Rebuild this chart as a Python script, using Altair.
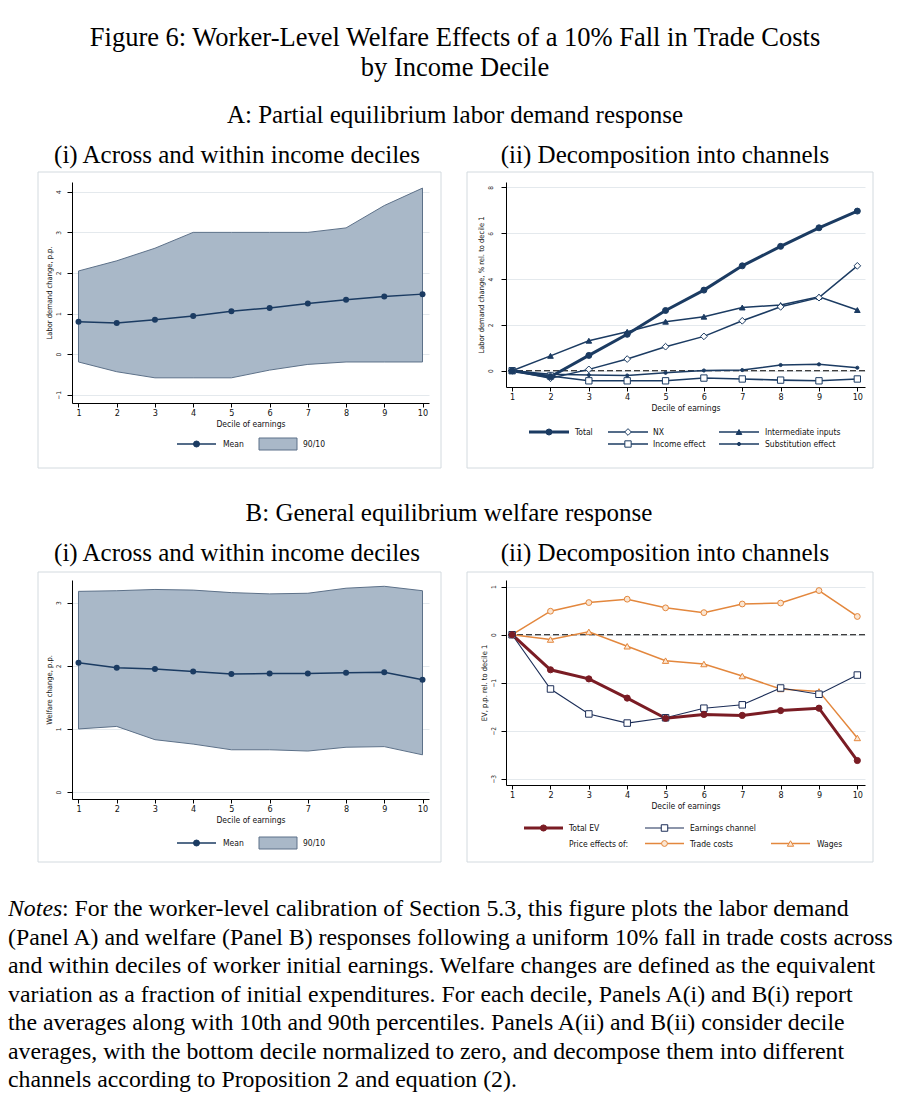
import altair as alt
import pandas as pd

# ---------------- data ----------------
deciles = [1, 2, 3, 4, 5, 6, 7, 8, 9, 10]

# Panel A(i): labor demand change, p.p.
a_mean = [0.80, 0.77, 0.85, 0.94, 1.06, 1.14, 1.25, 1.34, 1.42, 1.48]
a_p90 = [2.05, 2.30, 2.61, 3.00, 3.00, 3.00, 3.00, 3.11, 3.66, 4.09]
a_p10 = [-0.19, -0.43, -0.58, -0.58, -0.58, -0.39, -0.25, -0.19, -0.19, -0.19]

# Panel A(ii): decomposition, % rel. to decile 1
a_series = ["Total", "NX", "Intermediate inputs", "Income effect", "Substitution effect"]
a_total = [0.0, -0.26, 0.67, 1.59, 2.63, 3.52, 4.58, 5.43, 6.24, 6.97]
a_nx = [0.0, -0.33, 0.06, 0.51, 1.05, 1.50, 2.18, 2.79, 3.19, 4.58]
a_inter = [0.0, 0.65, 1.31, 1.70, 2.14, 2.36, 2.76, 2.87, 3.23, 2.65]
a_income = [0.0, -0.23, -0.44, -0.44, -0.44, -0.32, -0.36, -0.41, -0.44, -0.36]
a_subst = [0.0, -0.15, -0.19, -0.21, -0.09, 0.01, 0.03, 0.25, 0.28, 0.13]

# Panel B(i): welfare change, p.p.
b_mean = [2.05, 1.97, 1.95, 1.91, 1.87, 1.88, 1.88, 1.89, 1.90, 1.78]
b_p90 = [3.18, 3.19, 3.21, 3.20, 3.16, 3.14, 3.15, 3.23, 3.26, 3.19]
b_p10 = [1.00, 1.04, 0.83, 0.76, 0.67, 0.67, 0.65, 0.71, 0.72, 0.59]

# Panel B(ii): EV, p.p. rel. to decile 1
b_series = ["Total EV", "Earnings channel", "Trade costs", "Wages"]
b_total = [0.0, -0.73, -0.92, -1.32, -1.74, -1.66, -1.68, -1.58, -1.53, -2.62]
b_earn = [0.0, -1.13, -1.65, -1.84, -1.73, -1.53, -1.46, -1.11, -1.24, -0.84]
b_trade = [0.0, 0.49, 0.67, 0.74, 0.56, 0.46, 0.64, 0.66, 0.92, 0.38]
b_wages = [0.0, -0.10, 0.06, -0.24, -0.54, -0.61, -0.86, -1.13, -1.18, -2.15]

# tick values
a1_ticks = [-1, 0, 1, 2, 3, 4]
a2_ticks = [0, 2, 4, 6, 8]
b1_ticks = [0, 1, 2, 3]
b2_ticks = [-3, -2, -1, 0, 1]

# texts
fig_title = ["Figure 6: Worker-Level Welfare Effects of a 10% Fall in Trade Costs",
             "by Income Decile"]
panel_a_title = "A: Partial equilibrium labor demand response"
panel_b_title = "B: General equilibrium welfare response"
sub_i = "(i) Across and within income deciles"
sub_ii = "(ii) Decomposition into channels"
x_title = "Decile of earnings"
a1_ytitle = "Labor demand change, p.p."
a2_ytitle = "Labor demand change, % rel. to decile 1"
b1_ytitle = "Welfare change, p.p."
b2_ytitle = "EV, p.p. rel. to decile 1"
band_label = "90/10"
mean_label = "Mean"
price_label = "Price effects of:"
notes_word = "Notes"
notes_lines = [
    ": For the worker-level calibration of Section 5.3, this figure plots the labor demand",
    "(Panel A) and welfare (Panel B) responses following a uniform 10% fall in trade costs across",
    "and within deciles of worker initial earnings. Welfare changes are defined as the equivalent",
    "variation as a fraction of initial expenditures. For each decile, Panels A(i) and B(i) report",
    "the averages along with 10th and 90th percentiles. Panels A(ii) and B(ii) consider decile",
    "averages, with the bottom decile normalized to zero, and decompose them into different",
    "channels according to Proposition 2 and equation (2).",
]

# ---------------- styles ----------------
NAVY = "#1b3b62"
MAROON = "#7a1c24"
ORANGE = "#e3873d"
BAND = "#a9b8c8"
BANDLINE = "#5d7189"
GRID = "#e4e9ed"
FRAME = "#d3dadf"
SANS = "Liberation Sans Narrow, Arial Narrow, DejaVu Sans Condensed, Liberation Sans, sans-serif"
SERIF = "Liberation Serif, Times New Roman, serif"

A_STYLE = {
    "Total": dict(stroke=NAVY, width=3.0, shape="circle", fill=NAVY, size=36),
    "NX": dict(stroke=NAVY, width=1.5, shape="diamond", fill="white", size=45),
    "Intermediate inputs": dict(stroke=NAVY, width=1.5, shape="triangle-up", fill=NAVY, size=32),
    "Income effect": dict(stroke=NAVY, width=1.6, shape="square", fill="white", size=40),
    "Substitution effect": dict(stroke=NAVY, width=1.5, shape="circle", fill=NAVY, size=10),
}
B_STYLE = {
    "Total EV": dict(stroke=MAROON, width=3.0, shape="circle", fill=MAROON, size=38),
    "Earnings channel": dict(stroke="#1b2d57", width=1.1, shape="square", fill="white", size=42),
    "Trade costs": dict(stroke=ORANGE, width=1.5, shape="circle", fill="#fbe6d2", size=34),
    "Wages": dict(stroke=ORANGE, width=1.5, shape="triangle-up", fill="#fbe6d2", size=40),
}
MEAN_STYLE = {"Mean": dict(stroke=NAVY, width=1.5, shape="circle", fill=NAVY, size=36)}

INDEP = dict(stroke="independent", fill="independent", shape="independent",
             size="independent", strokeWidth="independent")


def scales(style):
    series = list(style.keys())
    def sc(key):
        return alt.Scale(type="ordinal", domain=series, range=[style[s][key] for s in series])
    return {k: sc(k) for k in ["stroke", "width", "shape", "fill", "size"]}


def x_axis():
    return alt.Axis(title=x_title, values=deciles, grid=False, format="d",
                    domainColor="black", domainWidth=1, tickColor="black", tickSize=4,
                    tickWidth=1, labelAngle=0, labelFont=SANS, labelFontSize=9,
                    labelColor="#111", labelPadding=1, titleFont=SANS, titleFontSize=8.5,
                    titleFontWeight="normal", titleColor="#111", titlePadding=2)


def y_axis(title, ticks, lpad, tpad):
    return alt.Axis(title=title, values=ticks, grid=True, gridColor=GRID, gridWidth=1,
                    format="d", domainColor="black", domainWidth=1, tickColor="black",
                    tickSize=5, tickWidth=1, labelAngle=270, labelAlign="center",
                    labelBaseline="middle", labelFont=SANS, labelFontSize=6.5,
                    labelColor="#222", labelPadding=lpad, titleFont=SANS, titleFontSize=7.5,
                    titleFontWeight="normal", titleColor="#111", titlePadding=tpad)


def frame(x0, x1, y0, y1):
    return alt.Chart(alt.Data(values=[{}])).mark_rect(
        fillOpacity=0, stroke=FRAME, strokeWidth=1
    ).encode(x=alt.value(x0), x2=alt.value(x1), y=alt.value(y0), y2=alt.value(y1))


def legend_group(w, rows_px, entries, texts, style, line_len, extra=None):
    sc = scales(style)
    LX = alt.Scale(domain=[0, w], range=[0, w], nice=False, zero=False)
    LY = alt.Scale(domain=[0, 1], range=rows_px, nice=False, zero=False)
    layers = []
    if entries:
        de = pd.DataFrame({
            "series": [e[0] for e in entries],
            "x0": [e[1] for e in entries],
            "x1": [e[1] + line_len for e in entries],
            "xm": [e[1] + line_len / 2 for e in entries],
            "row": [e[2] for e in entries],
        })
        layers.append(alt.Chart(de).mark_rule().encode(
            x=alt.X("x0:Q", scale=LX, axis=None), x2="x1:Q",
            y=alt.Y("row:Q", scale=LY, axis=None),
            stroke=alt.Stroke("series:N", scale=sc["stroke"], legend=None),
            strokeWidth=alt.StrokeWidth("series:N", scale=sc["width"], legend=None)))
        layers.append(alt.Chart(de).mark_point(filled=True, opacity=1, strokeWidth=1).encode(
            x=alt.X("xm:Q", scale=LX, axis=None),
            y=alt.Y("row:Q", scale=LY, axis=None),
            shape=alt.Shape("series:N", scale=sc["shape"], legend=None),
            fill=alt.Fill("series:N", scale=sc["fill"], legend=None),
            stroke=alt.Stroke("series:N", scale=sc["stroke"], legend=None),
            size=alt.Size("series:N", scale=sc["size"], legend=None)))
    if extra is not None:
        bx0, bx1 = extra
        db = pd.DataFrame({"bx0": [bx0], "bx1": [bx1], "by0": [-0.5], "by1": [0.5]})
        layers.append(alt.Chart(db).mark_rect(fill=BAND, stroke=BANDLINE, strokeWidth=1).encode(
            x=alt.X("bx0:Q", scale=LX, axis=None), x2="bx1:Q",
            y=alt.Y("by0:Q", scale=LY, axis=None), y2="by1:Q"))
    dt = pd.DataFrame({"label": [t[0] for t in texts], "x": [t[1] for t in texts],
                       "row": [t[2] for t in texts]})
    layers.append(alt.Chart(dt).mark_text(align="left", baseline="middle", font=SANS,
                                          fontSize=8.5, color="#111").encode(
        x=alt.X("x:Q", scale=LX, axis=None), y=alt.Y("row:Q", scale=LY, axis=None),
        text="label:N"))
    return alt.layer(*layers)


def band_panel(mean, p90, p10, ydom, ticks, ytitle, w, h, fr, legrow, lpad, tpad):
    df = pd.DataFrame({"decile": deciles, "mean": mean, "p90": p90, "p10": p10})
    xs = alt.Scale(domain=[0.83, 10.17], nice=False, zero=False)
    ys = alt.Scale(domain=ydom, nice=False, zero=False)
    yax = y_axis(ytitle, ticks, lpad, tpad)
    X = alt.X("decile:Q", scale=xs, axis=x_axis())
    band = alt.Chart(df).mark_area(fill=BAND, stroke=BANDLINE, strokeWidth=1, opacity=1).encode(
        x=X, y=alt.Y("p90:Q", scale=ys, axis=yax), y2="p10:Q")
    line = alt.Chart(df).mark_line(color=NAVY, strokeWidth=1.5).encode(
        x=X, y=alt.Y("mean:Q", scale=ys, axis=yax))
    pts = alt.Chart(df).mark_point(filled=True, color=NAVY, size=36, opacity=1).encode(
        x=X, y=alt.Y("mean:Q", scale=ys, axis=yax))
    main = alt.layer(band, line, pts)
    leg = legend_group(w, [legrow, legrow + 12], [("Mean", 105, 0)],
                       [(mean_label, 151, 0), (band_label, 231, 0)], MEAN_STYLE, 39,
                       extra=(187, 225))
    return alt.layer(frame(*fr), main, leg).resolve_scale(
        x="independent", y="independent").properties(width=w, height=h)


def decomp_panel(series, values, style, ydom, ticks, ytitle, w, h, fr, rows_px,
                 entries, texts, line_len, lpad, tpad):
    sc = scales(style)
    order = list(reversed(series))
    df = pd.DataFrame({
        "decile": [d for s in order for d in deciles],
        "value": [v for s in order for v in values[s]],
        "series": [s for s in order for _ in deciles],
    })
    xs = alt.Scale(domain=[0.84, 10.2], nice=False, zero=False)
    ys = alt.Scale(domain=ydom, nice=False, zero=False)
    yax = y_axis(ytitle, ticks, lpad, tpad)
    X = alt.X("decile:Q", scale=xs, axis=x_axis())
    Y = alt.Y("value:Q", scale=ys, axis=yax)
    zero = alt.Chart(alt.Data(values=[{}])).mark_rule(
        color="black", strokeWidth=1.1, strokeDash=[6, 3]).encode(
        y=alt.datum(0, scale=ys, axis=yax))
    lines = alt.Chart(df).mark_line().encode(
        x=X, y=Y,
        stroke=alt.Stroke("series:N", scale=sc["stroke"], legend=None),
        strokeWidth=alt.StrokeWidth("series:N", scale=sc["width"], legend=None))
    pts = alt.Chart(df).mark_point(filled=True, opacity=1, strokeWidth=1).encode(
        x=X, y=Y,
        shape=alt.Shape("series:N", scale=sc["shape"], legend=None),
        fill=alt.Fill("series:N", scale=sc["fill"], legend=None),
        stroke=alt.Stroke("series:N", scale=sc["stroke"], legend=None),
        size=alt.Size("series:N", scale=sc["size"], legend=None))
    main = alt.layer(zero, lines, pts)
    leg = legend_group(w, rows_px, entries, texts, style, line_len)
    return alt.layer(frame(*fr), main, leg).resolve_scale(
        x="independent", y="independent").properties(width=w, height=h)


def text_item(txt, x, y, size=25, style="normal", align="center"):
    return alt.Chart(alt.Data(values=[{}])).mark_text(
        text=txt, font=SERIF, fontSize=size, fontStyle=style, align=align,
        baseline="middle", color="black").encode(x=alt.value(x), y=alt.value(y))


def spacer(w, h):
    return alt.Chart(alt.Data(values=[{}])).mark_text(text=" ").encode(
        x=alt.value(0), y=alt.value(0)).properties(width=w, height=h)


W = 893

header = alt.layer(
    text_item(fig_title[0], 447, 30, size=26.5),
    text_item(fig_title[1], 447, 60, size=26.5),
    text_item(panel_a_title, 447, 107),
    text_item(sub_i, 229, 147),
    text_item(sub_ii, 657, 147),
).properties(width=W, height=163)

panel_a1 = band_panel(a_mean, a_p90, a_p10, [-1.2, 4.24], a1_ticks, a1_ytitle,
                      357, 221, (-34, 369, -10, 286), 262, 9, 2)

a_values = {"Total": a_total, "NX": a_nx, "Intermediate inputs": a_inter,
            "Income effect": a_income, "Substitution effect": a_subst}
panel_a2 = decomp_panel(
    a_series, a_values, A_STYLE, [-0.71, 8.24], a2_ticks, a2_ytitle,
    359, 205, (-39, 367, -10, 286), [250, 262],
    [("Total", 23, 0), ("NX", 102, 0), ("Intermediate inputs", 213, 0),
     ("Income effect", 102, 1), ("Substitution effect", 213, 1)],
    [("Total", 69, 0), ("NX", 147, 0), ("Intermediate inputs", 259, 0),
     ("Income effect", 147, 1), ("Substitution effect", 259, 1)],
    40, 11, 2)

header_b = alt.layer(
    text_item(panel_b_title, 441, 44),
    text_item(sub_i, 229, 84),
    text_item(sub_ii, 657, 84),
).properties(width=W, height=102)

panel_b1 = band_panel(b_mean, b_p90, b_p10, [-0.11, 3.36], b1_ticks, b1_ytitle,
                      357, 219, (-34, 369, -8, 282), 263, 9, 2)

b_values = {"Total EV": b_total, "Earnings channel": b_earn, "Trade costs": b_trade,
            "Wages": b_wages}
panel_b2 = decomp_panel(
    b_series, b_values, B_STYLE, [-3.13, 1.14], b2_ticks, b2_ytitle,
    359, 205, (-39, 367, -8, 282), [248, 263.5],
    [("Total EV", 18, 0), ("Earnings channel", 139, 0), ("Trade costs", 139, 1),
     ("Wages", 265, 1)],
    [("Total EV", 63, 0), ("Earnings channel", 184, 0), (price_label, 63, 1),
     ("Trade costs", 184, 1), ("Wages", 311, 1)],
    39, 8, 2)

NOTE_SIZE = 23.8
note_layers = [text_item(notes_word, 0, 46, size=NOTE_SIZE, style="italic", align="left"),
               text_item(notes_lines[0], 54, 46, size=NOTE_SIZE, align="left")]
for i, ln in enumerate(notes_lines[1:], start=1):
    note_layers.append(text_item(ln, 0, 46 + 28.5 * i, size=NOTE_SIZE, align="left"))
notes = alt.layer(*note_layers).properties(width=W, height=226)

row_a = alt.hconcat(spacer(5, 10), panel_a1, panel_a2, spacing=24).resolve_scale(**INDEP)
row_b = alt.hconcat(spacer(5, 10), panel_b1, panel_b2, spacing=24).resolve_scale(**INDEP)

chart = alt.vconcat(header, row_a, header_b, row_b, notes, spacing=0).resolve_scale(
    **INDEP
).properties(padding=0, background="white").configure_view(strokeWidth=0)

chart.save("out.html", embed_options={"renderer": "svg", "actions": False})
